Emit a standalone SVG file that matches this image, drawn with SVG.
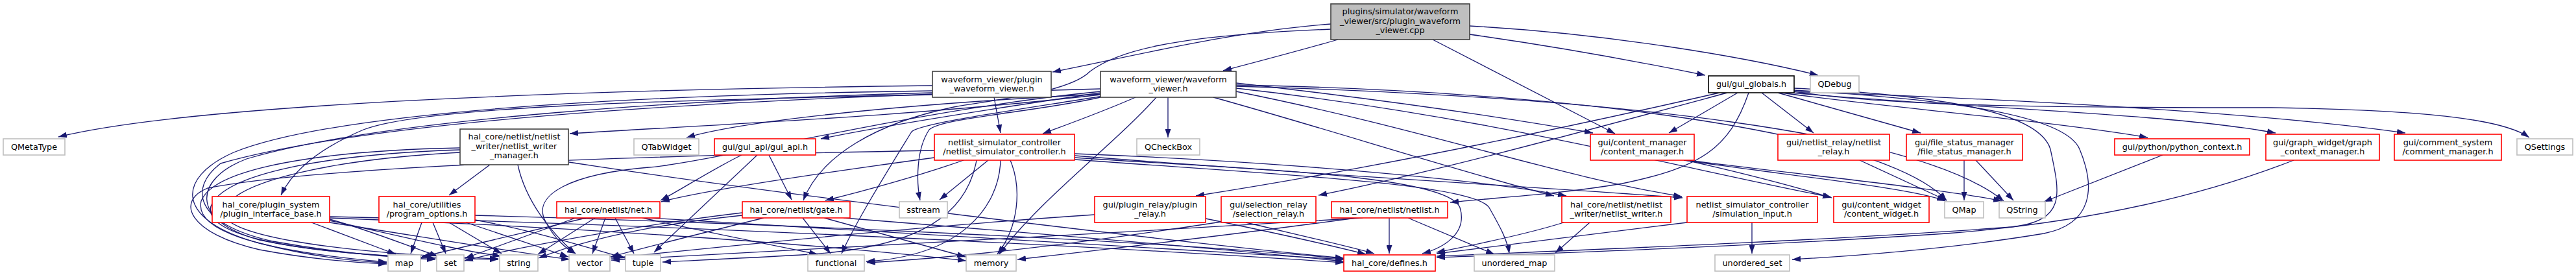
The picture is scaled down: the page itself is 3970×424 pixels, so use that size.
<svg xmlns="http://www.w3.org/2000/svg" width="3970" height="424" viewBox="0 0 3970 424">
<style>
text{font-family:"DejaVu Sans","Liberation Sans",sans-serif;font-size:12.8px;fill:#000;text-anchor:middle}
.g rect{fill:#fff;stroke:#bfbfbf;stroke-width:1.6}
.r rect{fill:#fff;stroke:#ff0000;stroke-width:1.6}
.k rect{fill:#fff;stroke:#404040;stroke-width:1.6}
.b rect{fill:#fff;stroke:#000;stroke-width:1.6}
.root rect{fill:#bfbfbf;stroke:#404040;stroke-width:1.6}
#edges path{fill:none;stroke:#191970;stroke-width:1.3;marker-end:url(#a)}
</style>
<defs>
<marker id="a" viewBox="0 0 13 9" refX="13" refY="4.5" markerWidth="13" markerHeight="9" markerUnits="userSpaceOnUse" orient="auto"><path d="M0,0L13,4.5L0,9z" fill="#191970"/></marker>
</defs>
<rect width="3970" height="424" fill="#fff"/>
<g id="edges">
<path d="M2051,37 C1900,48 1740,88 1622,111"/>
<path d="M2062,61 C2010,76 1950,92 1885,109"/>
<path d="M2265,53 C2400,72 2530,96 2628,116"/>
<path d="M2265,40 C2480,52 2690,88 2802,116"/>
<path d="M2208,61 L2489,206"/>
<path d="M2051,45 C1800,55 1720,80 1680,110 C1650,140 1560,150 1470,165 C1350,190 1265,240 1238,309"/>
<path d="M1532,150 L1542,205"/>
<path d="M1437,132 C900,138 300,160 90,211"/>
<path d="M1437,146 C1000,155 650,165 560,200 C490,230 450,265 433,301"/>
<path d="M1437,140 C1000,146 520,170 360,235 C270,275 270,340 400,375 C480,396 550,403 596,405"/>
<path d="M1437,143 C1100,152 600,180 380,245 C300,275 290,340 400,370 C520,395 650,398 768,400"/>
<path d="M1750,150 C1700,172 1650,190 1607,206"/>
<path d="M1800,150 L1800,212"/>
<path d="M1782,150 C1720,220 1600,310 1540,392"/>
<path d="M1696,143 C1500,172 1350,196 1265,214"/>
<path d="M1696,145 C1400,160 1150,185 1058,212"/>
<path d="M1696,146 C1400,180 1100,192 878,206"/>
<path d="M1696,150 C1600,172 1450,182 1432,200 C1412,230 1412,280 1418,309"/>
<path d="M1700,148 C1550,172 1420,190 1405,203 C1370,260 1320,340 1297,391"/>
<path d="M1696,137 C1200,150 600,178 340,252 C290,290 300,345 420,372 C520,390 600,397 671,400"/>
<path d="M1905,128 C2100,150 2300,178 2455,205"/>
<path d="M1905,136 C2300,180 2600,262 2822,304"/>
<path d="M1905,141 C2200,200 2400,272 2592,303"/>
<path d="M1870,150 C2050,200 2250,265 2395,302"/>
<path d="M1905,131 C2400,140 2900,200 3000,309"/>
<path d="M1905,133 C2500,150 2960,205 3088,310"/>
<path d="M1696,141 C1400,170 1100,250 1000,258 C880,268 820,300 840,340 C855,370 875,385 887,391"/>
<path d="M1523,247 L1448,308"/>
<path d="M1485,247 C1420,270 1330,295 1272,309"/>
<path d="M1440,243 C1300,262 1100,290 1019,311"/>
<path d="M1557,247 C1575,290 1570,350 1537,392"/>
<path d="M1542,247 C1540,320 1480,395 1335,403"/>
<path d="M1505,247 C1490,330 1420,380 1250,392 C1150,398 1080,401 1021,404"/>
<path d="M1656,240 C2000,268 2400,290 2593,305"/>
<path d="M1656,243 C1900,260 2230,268 2250,320 C2262,360 2225,382 2192,391"/>
<path d="M1656,246 C1950,268 2270,282 2295,320 C2312,350 2323,370 2326,391"/>
<path d="M1656,237 C2000,250 2300,280 2414,302"/>
<path d="M1440,232 C1000,240 500,255 320,290 C270,310 290,360 400,385 C480,400 550,405 596,407"/>
<path d="M2678,143 L2572,205"/>
<path d="M2715,143 L2795,205"/>
<path d="M2740,143 L2960,205"/>
<path d="M2745,143 C2900,165 3150,185 3310,212"/>
<path d="M2750,142 C3000,165 3350,175 3507,205"/>
<path d="M2755,141 C3100,152 3500,175 3707,205"/>
<path d="M2760,140 C2900,165 3200,166 3500,166 C3750,170 3860,185 3898,212"/>
<path d="M2650,143 C2400,200 2100,262 1843,302"/>
<path d="M2662,143 C2450,200 2200,268 2032,301"/>
<path d="M2695,143 C2665,230 2620,258 2500,283 C2400,300 2300,305 2235,312"/>
<path d="M2765,139 C2950,150 3180,170 3205,230 C3230,290 3225,345 3150,360 C3000,385 2850,395 2762,400"/>
<path d="M2765,136 C2950,145 3140,165 3160,230 C3175,300 3185,340 3100,350 C2800,372 2400,387 2214,395"/>
<path d="M2598,247 C2700,270 2780,292 2823,305"/>
<path d="M2600,247 C2800,272 3000,292 3085,310"/>
<path d="M2595,247 C2750,270 2950,290 2998,310"/>
<path d="M2866,247 L3000,309"/>
<path d="M3027,247 L3027,309"/>
<path d="M3045,247 L3103,309"/>
<path d="M3333,239 L3150,311"/>
<path d="M3535,247 C3420,292 3250,340 3000,360 C2700,380 2400,390 2214,397"/>
<path d="M2700,343 L2700,391"/>
<path d="M2600,343 C2450,362 2300,380 2214,391"/>
<path d="M2410,343 C2350,362 2260,380 2214,389"/>
<path d="M2450,343 L2397,390"/>
<path d="M2141,336 L2141,391"/>
<path d="M2170,336 L2303,392"/>
<path d="M2090,336 C1900,362 1700,385 1568,400"/>
<path d="M2100,336 C1700,360 1200,388 942,401"/>
<path d="M1858,337 C1950,356 2050,378 2105,392"/>
<path d="M1687,331 C1400,350 1100,382 942,398"/>
<path d="M1920,343 C2000,362 2080,380 2118,391"/>
<path d="M1882,342 C1700,370 1500,396 1336,405"/>
<path d="M887,336 L717,398"/>
<path d="M903,336 L650,396"/>
<path d="M917,336 L829,392"/>
<path d="M933,336 L913,391"/>
<path d="M948,336 L977,391"/>
<path d="M1000,336 C1400,360 1800,382 2071,400"/>
<path d="M990,336 C1100,360 1200,380 1260,392"/>
<path d="M1237,336 L1280,391"/>
<path d="M1270,336 L1488,396"/>
<path d="M1300,336 C1600,360 1900,385 2071,403"/>
<path d="M1144,332 C1000,347 900,370 830,398"/>
<path d="M1177,336 C1100,355 1000,380 941,396"/>
<path d="M1144,328 C1000,345 800,380 716,402"/>
<path d="M1167,239 L1008,389"/>
<path d="M1185,239 L1220,308"/>
<path d="M1143,239 C1100,260 1050,292 1018,309"/>
<path d="M755,254 L692,301"/>
<path d="M798,254 C810,310 850,360 887,391"/>
<path d="M877,250 C1200,300 1800,372 2071,398"/>
<path d="M709,228 C500,232 330,258 310,310 C300,352 380,385 596,404"/>
<path d="M709,231 C500,238 345,268 325,318 C315,358 420,388 671,398"/>
<path d="M709,235 C520,245 360,278 345,325 C335,360 500,390 768,399"/>
<path d="M650,343 L633,391"/>
<path d="M667,343 L687,391"/>
<path d="M692,343 L773,391"/>
<path d="M718,343 L876,396"/>
<path d="M732,332 C1200,345 1800,372 2071,399"/>
<path d="M732,339 C820,355 900,380 964,398"/>
<path d="M480,343 L610,392"/>
<path d="M508,338 C570,355 630,380 675,395"/>
<path d="M508,340 C600,360 700,385 772,395"/>
<path d="M508,343 C650,365 800,390 878,400"/>
<path d="M508,336 C900,350 1300,380 1489,402"/>
<path d="M508,334 C1000,345 1700,380 2071,405"/>
</g>
<g id="root" class="root"><rect x="2051" y="6" width="214" height="55"/><text x="2158" y="22">plugins/simulator/waveform</text><text x="2158" y="36.5">_viewer/src/plugin_waveform</text><text x="2158" y="51">_viewer.cpp</text></g>
<g id="pwv" class="k"><rect x="1437" y="110" width="183" height="40"/><text x="1528.5" y="126.5">waveform_viewer/plugin</text><text x="1528.5" y="141">_waveform_viewer.h</text></g>
<g id="wv" class="k"><rect x="1696" y="110" width="209" height="40"/><text x="1800.5" y="126.5">waveform_viewer/waveform</text><text x="1800.5" y="141">_viewer.h</text></g>
<g id="gg" class="b"><rect x="2633" y="117" width="132" height="26"/><text x="2699" y="134">gui/gui_globals.h</text></g>
<g id="qdebug" class="g"><rect x="2790" y="117" width="75" height="26"/><text x="2827.5" y="134">QDebug</text></g>
<g id="qmetatype" class="g"><rect x="5" y="214" width="95" height="25"/><text x="52.5" y="231">QMetaType</text></g>
<g id="nwm" class="k"><rect x="709" y="199" width="167" height="55"/><text x="792.5" y="215">hal_core/netlist/netlist</text><text x="792.5" y="229.5">_writer/netlist_writer</text><text x="792.5" y="244">_manager.h</text></g>
<g id="qtabwidget" class="g"><rect x="977" y="214" width="100" height="25"/><text x="1027" y="231">QTabWidget</text></g>
<g id="guiapi" class="r"><rect x="1101" y="214" width="156" height="25"/><text x="1179" y="231">gui/gui_api/gui_api.h</text></g>
<g id="nsc" class="r"><rect x="1440" y="207" width="216" height="40"/><text x="1548" y="223.5">netlist_simulator_controller</text><text x="1548" y="238">/netlist_simulator_controller.h</text></g>
<g id="qcheckbox" class="g"><rect x="1752" y="214" width="97" height="25"/><text x="1800.5" y="231">QCheckBox</text></g>
<g id="cm" class="r"><rect x="2451" y="207" width="160" height="40"/><text x="2531" y="223.5">gui/content_manager</text><text x="2531" y="238">/content_manager.h</text></g>
<g id="nr" class="r"><rect x="2740" y="207" width="172" height="40"/><text x="2826" y="223.5">gui/netlist_relay/netlist</text><text x="2826" y="238">_relay.h</text></g>
<g id="fsm" class="r"><rect x="2938" y="207" width="179" height="40"/><text x="3027.5" y="223.5">gui/file_status_manager</text><text x="3027.5" y="238">/file_status_manager.h</text></g>
<g id="pc" class="r"><rect x="3259" y="214" width="208" height="25"/><text x="3363" y="231">gui/python/python_context.h</text></g>
<g id="gcm" class="r"><rect x="3492" y="207" width="175" height="40"/><text x="3579.5" y="223.5">gui/graph_widget/graph</text><text x="3579.5" y="238">_context_manager.h</text></g>
<g id="cmt" class="r"><rect x="3690" y="207" width="165" height="40"/><text x="3772.5" y="223.5">gui/comment_system</text><text x="3772.5" y="238">/comment_manager.h</text></g>
<g id="qsettings" class="g"><rect x="3879" y="214" width="86" height="25"/><text x="3922" y="231">QSettings</text></g>
<g id="pib" class="r"><rect x="327" y="303" width="181" height="40"/><text x="417.5" y="319.5">hal_core/plugin_system</text><text x="417.5" y="334">/plugin_interface_base.h</text></g>
<g id="po" class="r"><rect x="584" y="303" width="148" height="40"/><text x="658" y="319.5">hal_core/utilities</text><text x="658" y="334">/program_options.h</text></g>
<g id="net" class="r"><rect x="858" y="311" width="159" height="25"/><text x="937.5" y="328">hal_core/netlist/net.h</text></g>
<g id="gate" class="r"><rect x="1144" y="311" width="166" height="25"/><text x="1227" y="328">hal_core/netlist/gate.h</text></g>
<g id="sstream" class="g"><rect x="1386" y="311" width="74" height="25"/><text x="1423" y="328">sstream</text></g>
<g id="pr" class="r"><rect x="1687" y="303" width="171" height="40"/><text x="1772.5" y="319.5">gui/plugin_relay/plugin</text><text x="1772.5" y="334">_relay.h</text></g>
<g id="sr" class="r"><rect x="1882" y="303" width="146" height="40"/><text x="1955" y="319.5">gui/selection_relay</text><text x="1955" y="334">/selection_relay.h</text></g>
<g id="nl" class="r"><rect x="2052" y="311" width="179" height="25"/><text x="2141.5" y="328">hal_core/netlist/netlist.h</text></g>
<g id="nw" class="r"><rect x="2407" y="303" width="168" height="40"/><text x="2491" y="319.5">hal_core/netlist/netlist</text><text x="2491" y="334">_writer/netlist_writer.h</text></g>
<g id="si" class="r"><rect x="2600" y="303" width="201" height="40"/><text x="2700.5" y="319.5">netlist_simulator_controller</text><text x="2700.5" y="334">/simulation_input.h</text></g>
<g id="cw" class="r"><rect x="2826" y="303" width="147" height="40"/><text x="2899.5" y="319.5">gui/content_widget</text><text x="2899.5" y="334">/content_widget.h</text></g>
<g id="qmap" class="g"><rect x="2997" y="311" width="60" height="25"/><text x="3027" y="328">QMap</text></g>
<g id="qstring" class="g"><rect x="3081" y="311" width="71" height="25"/><text x="3116.5" y="328">QString</text></g>
<g id="map" class="g"><rect x="598" y="393" width="50" height="25"/><text x="623" y="410">map</text></g>
<g id="set" class="g"><rect x="673" y="393" width="42" height="25"/><text x="694" y="410">set</text></g>
<g id="string" class="g"><rect x="770" y="393" width="59" height="25"/><text x="799.5" y="410">string</text></g>
<g id="vector" class="g"><rect x="877" y="393" width="63" height="25"/><text x="908.5" y="410">vector</text></g>
<g id="tuple" class="g"><rect x="964" y="393" width="54" height="25"/><text x="991" y="410">tuple</text></g>
<g id="functional" class="g"><rect x="1245" y="393" width="87" height="25"/><text x="1288.5" y="410">functional</text></g>
<g id="memory" class="g"><rect x="1489" y="393" width="77" height="25"/><text x="1527.5" y="410">memory</text></g>
<g id="defines" class="r"><rect x="2071" y="393" width="141" height="25"/><text x="2141.5" y="410">hal_core/defines.h</text></g>
<g id="umap" class="g"><rect x="2272" y="393" width="124" height="25"/><text x="2334" y="410">unordered_map</text></g>
<g id="uset" class="g"><rect x="2643" y="393" width="115" height="25"/><text x="2700.5" y="410">unordered_set</text></g>
</svg>
